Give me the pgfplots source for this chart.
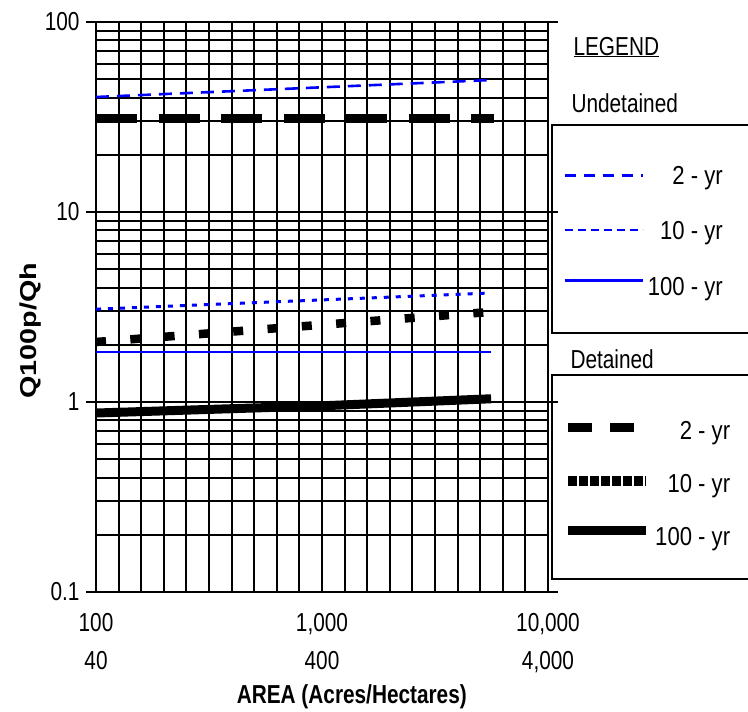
\documentclass[border=0pt]{standalone}
\usepackage{fontspec}
\setmainfont{Liberation Sans}[FakeStretch=0.8]
\newfontfamily\rotfont{Liberation Sans}[FakeStretch=1.25]
\newfontfamily\legfont{Liberation Sans}[FakeStretch=0.85]
\usepackage{pgfplots}
\pgfplotsset{compat=1.18}
\begin{document}
\begin{tikzpicture}[x=1pt,y=1pt]
\path[use as bounding box] (0,0) rectangle (748,-712);

\begin{axis}[
  at={(96pt,-22pt)}, anchor=north west,
  scale only axis, width=452pt, height=570pt,
  xmode=log, ymode=log,
  xmin=100, xmax=10000, ymin=0.1, ymax=100,
  legend cell align=right,
  legend image code/.code={\draw[#1] (0pt,0pt) -- (78pt,0pt);},
  legend style={at={(1.0332,0.7491)}, anchor=north west, draw=none, fill=none,
      inner sep=0pt, row sep=30.5pt, column sep=4pt,
      nodes={inner sep=0pt, text height=19pt, text depth=6pt,
        font=\legfont\fontsize{26}{30}\selectfont}},
  xtick={100,1000,10000},
  xticklabels={{100\\40},{1,000\\400},{10,000\\4,000}},
  minor xtick={125.89,158.49,199.53,251.19,316.23,398.11,501.19,630.96,794.33,
    1258.9,1584.9,1995.3,2511.9,3162.3,3981.1,5011.9,6309.6,7943.3},
  ytick={0.1,1,10,100},
  yticklabels={0.1,1,10,100},
  minor ytick={0.2,0.3,0.4,0.5,0.6,0.7,0.8,0.9,2,3,4,5,6,7,8,9,20,30,40,50,60,70,80,90},
  grid=both,
  major grid style={black, line width=2pt},
  minor grid style={black, line width=2pt},
  axis line style={black, line width=2.4pt},
  tick align=outside,
  major tick length=10pt,
  minor tick length=0pt,
  xtick style={draw=none},
  ytick style={black, line width=2pt},
  every tick label/.append style={font=\fontsize{26}{38}\selectfont},
  xticklabel style={align=center, yshift=-8pt},
  yticklabel style={xshift=-3pt},
  xlabel={AREA (Acres/Hectares)},
  xlabel style={at={(axis description cs:0.566,0)}, anchor=base, yshift=-111pt,
    font=\fontsize{26}{30}\selectfont\bfseries},
  ylabel={Q100p/Qh},
  ylabel style={at={(axis description cs:0,0.458)}, anchor=center, yshift=65pt,
    font=\rotfont\bfseries\fontsize{23}{27}\selectfont},
]
% Undetained 2-yr
\addplot[blue, line width=2.6pt, dash pattern=on 13pt off 8pt, forget plot]
  coordinates {(100,40.3) (5600,49.5)};
% Undetained 10-yr
\addplot[blue, line width=3pt, dash pattern=on 5pt off 7pt, forget plot]
  coordinates {(100,3.08) (5600,3.75)};
% Undetained 100-yr
\addplot[blue, line width=2.4pt, forget plot]
  coordinates {(100,1.83) (5600,1.83)};
\addlegendimage{blue, line width=2.6pt, dash pattern=on 11pt off 8pt, yshift=2pt}
\addlegendentry{2 - yr}
\addlegendimage{blue, line width=2.4pt, dash pattern=on 8pt off 5pt, yshift=3pt}
\addlegendentry{10 - yr}
\addlegendimage{blue, line width=2.6pt, yshift=8pt}
\addlegendentry{100 - yr}
\end{axis}

\begin{axis}[
  at={(96pt,-22pt)}, anchor=north west,
  scale only axis, width=452pt, height=570pt,
  xmode=log, ymode=log,
  xmin=100, xmax=10000, ymin=0.1, ymax=100,
  hide axis,
  legend cell align=right,
  legend image code/.code={\draw[#1] (0pt,0pt) -- (78pt,0pt);},
  legend style={at={(1.0332,0.3018)}, anchor=north west, draw=none, fill=none,
      inner sep=0pt, row sep=28pt, column sep=4pt,
      nodes={inner sep=0pt, text height=19pt, text depth=6pt,
        font=\legfont\fontsize{26}{30}\selectfont}},
]
% Detained 2-yr
\addplot[black, line width=9pt, dash pattern=on 41pt off 21.5pt, forget plot]
  coordinates {(100,31.2) (5750,31.2)};
% Detained 10-yr
\addplot[black, line width=8.5pt, dash pattern=on 10pt off 24.4pt, forget plot]
  coordinates {(100,2.07) (5600,2.98)};
% Detained 100-yr
\addplot[black, line width=9pt, forget plot]
  coordinates {(100,0.875) (1000,0.955) (5600,1.04)};
\addlegendimage{black, line width=9pt, dash pattern=on 24pt off 18pt, yshift=5pt}
\addlegendentry{2 - yr}
\addlegendimage{black, line width=10pt, dash pattern=on 8.3pt off 2.7pt, yshift=4.5pt}
\addlegendentry{10 - yr}
\addlegendimage{black, line width=9pt, yshift=8pt}
\addlegendentry{100 - yr}
\end{axis}

\node[anchor=base west, font=\fontsize{26}{30}\selectfont] at (570,-55) {\underline{LEGEND}};
\node[anchor=base west, font=\fontsize{26}{30}\selectfont] at (568,-112) {Undetained};
\node[anchor=base west, font=\fontsize{26}{30}\selectfont] at (567,-368) {Detained};
\draw[line width=2pt] (552,-125) rectangle (752,-333);
\draw[line width=2pt] (552,-375) rectangle (752,-579);
\end{tikzpicture}
\end{document}
